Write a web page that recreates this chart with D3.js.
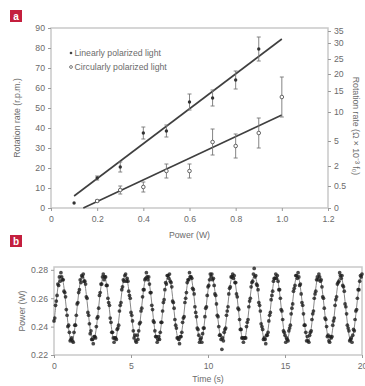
<!DOCTYPE html>
<html>
<head>
<meta charset="utf-8">
<script src="https://cdn.jsdelivr.net/npm/d3@7/dist/d3.min.js"></script>
<style>
  html, body { margin: 0; padding: 0; background: #fff; }
  svg text { font-family: "Liberation Sans Narrow", "Liberation Sans", Arial, sans-serif; fill: #6b6b6b; }
</style>
</head>
<body>
<svg id="chart"></svg>
<script>
const W = 365, H = 386;

// ---- panel a data ----
const linearPower = [0.1, 0.2, 0.3, 0.4, 0.5, 0.6, 0.7, 0.8, 0.9];
const linearRpm   = [2.5, 15, 20.5, 37.5, 38.5, 53, 55, 64, 79.5];
const linearErr   = [0, 1, 2.5, 3, 3, 4, 4, 4.5, 6];

const circPower = [0.2, 0.3, 0.4, 0.5, 0.6, 0.7, 0.8, 0.9, 1.0];
const circRpm   = [3.5, 9, 10.5, 18.5, 18.5, 33, 31, 37.5, 55.5];
const circErr   = [0.5, 2, 2.5, 3.5, 3.5, 6.5, 6, 7.5, 10];

const linearFitX = [0.1, 1.0], linearFitY = [6, 84.5];
const circFitX = [0.14, 1.0], circFitY = [0, 46.5];

const leftTicks = [0, 10, 20, 30, 40, 50, 60, 70, 80, 90];
const powerTicks = [0, 0.2, 0.4, 0.6, 0.8, 1.0, 1.2];
// right axis (rotation rate, non-linear) and its position in r.p.m. units
const rightTicks = [0, 0.5, 2, 5, 10, 15, 20, 25, 30, 35];
const rightAsRpm = [0, 11, 21, 33.5, 48, 58.5, 67, 74.5, 82.5, 88.5];

// ---- panel b data (mW, sampled every 0.05 s) ----
const sampleStep = 0.05;
const dotMw = [
244,246,255,258,262,270,269,275,272,278,275,273,273,265,264,261,252,248,240,241,
236,230,231,232,230,229,236,241,241,248,256,257,264,266,273,271,276,275,277,272,
272,270,261,260,250,248,242,235,237,231,231,228,233,233,232,240,246,247,253,262,
264,270,270,275,277,273,275,275,269,269,260,257,255,246,243,236,236,232,229,232,
232,231,238,239,241,251,255,257,266,268,273,272,276,277,272,274,272,265,262,260,
250,248,244,237,232,234,230,229,234,231,237,242,243,251,253,261,266,266,273,274,
278,275,273,275,270,264,264,255,252,244,243,237,233,233,229,231,233,231,236,243,
243,251,257,259,266,271,270,276,276,274,277,272,271,268,258,257,253,245,241,239,
232,232,231,228,233,233,236,243,246,247,257,260,264,271,273,273,278,275,275,274,
267,266,263,254,250,247,239,238,234,229,231,232,229,235,239,239,247,253,254,262,
268,269,273,277,275,277,273,274,269,263,262,256,248,247,240,234,234,231,224,232,
230,236,238,239,248,251,254,263,267,268,275,275,277,274,276,271,271,263,261,253,
252,245,238,238,232,232,229,232,232,232,240,243,245,254,258,260,268,271,272,277,
281,275,276,270,269,266,257,255,251,242,240,238,231,232,231,228,234,234,236,244,
248,250,259,262,265,272,274,274,277,274,276,272,266,266,260,252,251,245,237,236,
234,229,232,231,230,237,239,241,249,253,256,265,267,269,276,276,274,278,275,269,
270,263,257,255,249,241,241,236,230,233,230,229,234,236,237,245,249,251,260,263,
265,273,275,273,277,275,272,273,268,261,260,253,246,245,240,233,234,230,229,233,
232,233,241,244,246,255,259,261,270,271,272,278,276,274,276,269,268,265,256,254,
249,241,239,237,230,231,232,229,234,238,237,245,251,252,260,266,266,272,276,275,
277];
// fitted curve (mW, every 0.1 s)
const fitStep = 0.1;
const fitMw = [
242.9,252.9,262.9,271,275.4,275.4,271,262.9,252.9,242.9,
234.9,230.5,230.6,235.2,243.3,253.3,263.3,271.2,275.5,275.3,
270.7,262.5,252.5,242.5,234.6,230.4,230.7,235.5,243.7,253.7,
263.7,271.5,275.6,275.2,270.4,262.1,252,242.1,234.4,230.4,
230.9,235.7,244.1,254.2,264,271.7,275.7,275.1,270.1,261.7,
251.6,241.8,234.1,230.3,231,236,244.4,254.6,264.4,272,
275.7,275,269.8,261.3,251.2,241.4,233.9,230.2,231.1,236.3,
244.9,255,264.8,272.2,275.8,274.9,269.5,261,250.8,241,
233.7,230.2,231.2,236.6,245.2,255.4,265.1,272.4,275.9,274.7,
269.2,260.5,250.4,240.7,233.4,230.1,231.4,236.9,245.7,255.9,
265.5,272.7,275.9,274.6,268.9,260.2,249.9,240.3,233.2,230.1,
231.5,237.2,246.1,256.3,265.9,272.9,275.9,274.4,268.6,259.7,
249.5,240,233,230,231.7,237.5,246.5,256.7,266.2,273.1,
276,274.3,268.3,259.3,249.1,239.6,232.8,230,231.8,237.8,
246.9,257.1,266.6,273.3,276,274.1,268,258.9,248.7,239.3,
232.6,230,232,238.2,247.3,257.6,266.9,273.5,276,273.9,
267.7,258.5,248.2,238.9,232.4,230,232.2,238.5,247.7,258,
267.2,273.7,276,273.7,267.4,258.1,247.8,238.6,232.2,230,
232.3,238.8,248.1,258.4,267.6,273.9,276,273.6,267,257.7,
247.4,238.3,232,230,232.6,239.2,248.5,258.8,267.9,274,
276];
const timeTicks = [0, 5, 10, 15, 20];
const bPowerTicks = [0.22, 0.24, 0.26, 0.28];

const svg = d3.select("#chart").attr("width", W).attr("height", H);
const boxColor = "#c9c9c9";
const fs = 8.7;

// panel tags
function tag(x, y, letter) {
  svg.append("rect").attr("x", x).attr("y", y).attr("width", 12).attr("height", 12).attr("fill", "#c41f3e");
  svg.append("text").attr("x", x + 6).attr("y", y + 9.5).attr("text-anchor", "middle")
     .style("fill", "#fff").style("font-size", "10px").style("font-weight", "bold").text(letter);
}
tag(10, 10, "a");
tag(10, 235, "b");

// ================= panel a =================
const x = d3.scaleLinear().domain([0, 1.2]).range([51, 328]);
const y = d3.scaleLinear().domain([0, 90]).range([208, 28]);
const rightMap = d3.scaleLinear().domain(rightTicks).range(rightAsRpm);

const ga = svg.append("g");
ga.append("rect").attr("x", x(0)).attr("y", y(90)).attr("width", x(1.2) - x(0)).attr("height", y(0) - y(90))
  .attr("fill", "none").attr("stroke", boxColor).attr("stroke-width", 1.5);

function styleAxis(g) {
  g.select(".domain").remove();
  g.selectAll(".tick line").attr("stroke", "#9a9a9a");
  g.selectAll(".tick text").style("font-size", fs + "px").style("fill", "#6b6b6b");
}

ga.append("g").attr("transform", `translate(${x(0)},0)`)
  .call(d3.axisLeft(y).tickValues(leftTicks).tickSize(3).tickPadding(3)).call(styleAxis);
ga.append("g").attr("transform", `translate(0,${y(0)})`)
  .call(d3.axisBottom(x).tickValues(powerTicks).tickSize(3).tickPadding(5)
    .tickFormat(d => d === 0 ? "0" : d3.format(".1f")(d))).call(styleAxis);
ga.append("g").attr("transform", `translate(${x(1.2)},0)`)
  .call(d3.axisRight(d3.scaleLinear().domain([0, 90]).range([208, 28]))
    .tickValues(rightTicks.map(v => rightMap(v))).tickSize(3).tickPadding(3)
    .tickFormat((d, i) => rightTicks[i])).call(styleAxis);

ga.append("text").attr("transform", `translate(20,${(y(0) + y(90)) / 2}) rotate(-90)`)
  .attr("text-anchor", "middle").style("font-size", fs + "px").text("Rotation rate (r.p.m.)");
ga.append("text").attr("transform", `translate(353,${(y(0) + y(90)) / 2 + 8}) rotate(90)`)
  .attr("text-anchor", "middle").style("font-size", fs + "px").text("Rotation rate (Ω × 10⁻³ f₀)");
ga.append("text").attr("x", (x(0) + x(1.2)) / 2).attr("y", 238)
  .attr("text-anchor", "middle").style("font-size", fs + "px").text("Power (W)");

// fit lines
const line = d3.line().x(d => x(d[0])).y(d => y(d[1]));
ga.append("path").datum(d3.zip(linearFitX, linearFitY)).attr("d", line)
  .attr("stroke", "#3f3f3f").attr("stroke-width", 1.6).attr("fill", "none");
ga.append("path").datum(d3.zip(circFitX, circFitY)).attr("d", line)
  .attr("stroke", "#3f3f3f").attr("stroke-width", 1.6).attr("fill", "none");

function errorBars(xs, ys, es) {
  const g = ga.append("g").attr("stroke", "#777").attr("stroke-width", 0.9);
  xs.forEach((xv, i) => {
    if (!es[i]) return;
    const cx = x(xv), y1 = y(ys[i] + es[i]), y2 = y(ys[i] - es[i]);
    g.append("line").attr("x1", cx).attr("x2", cx).attr("y1", y1).attr("y2", y2);
    g.append("line").attr("x1", cx - 2).attr("x2", cx + 2).attr("y1", y1).attr("y2", y1);
    g.append("line").attr("x1", cx - 2).attr("x2", cx + 2).attr("y1", y2).attr("y2", y2);
  });
}
errorBars(linearPower, linearRpm, linearErr);
errorBars(circPower, circRpm, circErr);

ga.selectAll(".lin").data(d3.zip(linearPower, linearRpm)).join("circle")
  .attr("cx", d => x(d[0])).attr("cy", d => y(d[1])).attr("r", 1.7).attr("fill", "#333");
ga.selectAll(".circ").data(d3.zip(circPower, circRpm)).join("circle")
  .attr("cx", d => x(d[0])).attr("cy", d => y(d[1])).attr("r", 1.8)
  .attr("fill", "#fff").attr("stroke", "#555").attr("stroke-width", 0.9);

// legend
const legend = ga.append("g").attr("transform", "translate(71,53)");
legend.append("circle").attr("cx", 0).attr("cy", 0).attr("r", 1.3).attr("fill", "#444");
legend.append("text").attr("x", 3.5).attr("y", 3).style("font-size", fs + "px").text("Linearly polarized light");
legend.append("circle").attr("cx", 0).attr("cy", 14).attr("r", 1.4).attr("fill", "#fff").attr("stroke", "#555").attr("stroke-width", 0.8);
legend.append("text").attr("x", 3.5).attr("y", 17).style("font-size", fs + "px").text("Circularly polarized light");

// ================= panel b =================
const xb = d3.scaleLinear().domain([0, 20]).range([54, 362]);
const yb = d3.scaleLinear().domain([0.22, 0.282]).range([355, 267]);
const gb = svg.append("g");
gb.append("rect").attr("x", xb(0)).attr("y", yb(0.282)).attr("width", xb(20) - xb(0)).attr("height", yb(0.22) - yb(0.282))
  .attr("fill", "none").attr("stroke", boxColor).attr("stroke-width", 1.5);

gb.append("g").attr("transform", `translate(${xb(0)},0)`)
  .call(d3.axisLeft(yb).tickValues(bPowerTicks).tickSize(3).tickPadding(3).tickFormat(d3.format(".2f"))).call(styleAxis);
gb.append("g").attr("transform", `translate(0,${yb(0.22)})`)
  .call(d3.axisBottom(xb).tickValues(timeTicks).tickSize(3).tickPadding(5)).call(styleAxis);

gb.append("text").attr("transform", `translate(25,${(yb(0.22) + yb(0.282)) / 2}) rotate(-90)`)
  .attr("text-anchor", "middle").style("font-size", fs + "px").text("Power (W)");
gb.append("text").attr("x", (xb(0) + xb(20)) / 2).attr("y", 382)
  .attr("text-anchor", "middle").style("font-size", fs + "px").text("Time (s)");

const fitLine = d3.line().curve(d3.curveCatmullRom)
  .x((d, i) => xb(i * fitStep)).y(d => yb(d / 1000));
gb.append("path").datum(fitMw).attr("d", fitLine)
  .attr("fill", "none").attr("stroke", "#888").attr("stroke-width", 1);

gb.selectAll(".dot").data(dotMw).join("circle")
  .attr("cx", (d, i) => xb(i * sampleStep)).attr("cy", d => yb(d / 1000))
  .attr("r", 1.85).attr("fill", "#1e1e1e").attr("fill-opacity", 0.8);
</script>
</body>
</html>
